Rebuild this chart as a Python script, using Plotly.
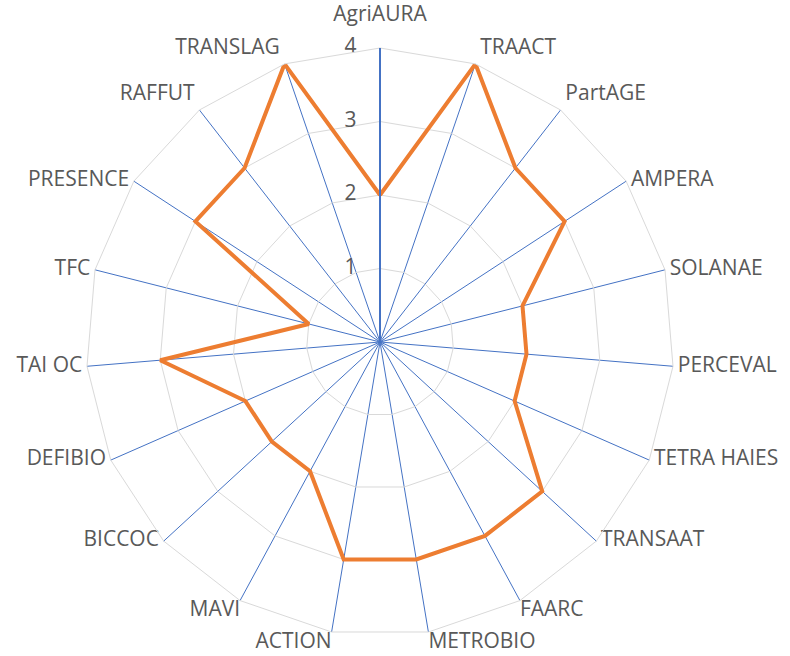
import plotly.graph_objects as go

categories = ["AgriAURA", "TRAACT", "PartAGE", "AMPERA", "SOLANAE", "PERCEVAL",
              "TETRA HAIES", "TRANSAAT", "FAARC", "METROBIO", "ACTION", "MAVI",
              "BICCOC", "DEFIBIO", "TAI OC", "TFC", "PRESENCE", "RAFFUT", "TRANSLAG"]
values = [2, 4, 3, 3, 2, 2, 2, 3, 3, 3, 3, 2, 2, 2, 3, 1, 3, 3, 4]
radial_ticks = [0, 1, 2, 3, 4]
radial_max = 4

n = len(categories)


def label_pos(i):
    a = i * 360.0 / n
    if a < 5:
        return "top center"
    if a < 45:
        return "top right"
    if a < 140:
        return "middle right"
    if a < 180:
        return "bottom right"
    if a < 220:
        return "bottom left"
    if a < 315:
        return "middle left"
    return "top left"


def label_offset(i):
    pos = label_pos(i)
    if pos == "top center":
        return 34
    if pos.startswith("bottom"):
        return 0
    return 6


fig = go.Figure()
fig.add_trace(go.Scatterpolar(
    r=values + values[:1],
    theta=categories + categories[:1],
    mode="lines",
    line=dict(color="#ED7D31", width=4),
    showlegend=False,
    hoverinfo="r+theta",
))
# category labels
fig.add_trace(go.Scatterpolar(
    r=[radial_max] * n,
    theta=categories,
    mode="markers+text",
    text=categories,
    textposition=[label_pos(i) for i in range(n)],
    marker=dict(size=[label_offset(i) for i in range(n)], opacity=0),
    textfont=dict(size=21, color="#595959"),
    cliponaxis=False,
    showlegend=False,
    hoverinfo="skip",
))
# radial tick labels
fig.add_trace(go.Scatterpolar(
    r=radial_ticks,
    theta=[categories[0]] * len(radial_ticks),
    mode="markers+text",
    text=[str(t) for t in radial_ticks],
    textposition="middle left",
    marker=dict(size=36, opacity=0),
    textfont=dict(size=21, color="#595959"),
    cliponaxis=False,
    showlegend=False,
    hoverinfo="skip",
))

W, H = 790, 656
cx, cy, R = 380, 342, 294
fig.update_layout(
    width=W, height=H,
    margin=dict(l=0, r=0, t=0, b=0),
    paper_bgcolor="white",
    font=dict(family="Open Sans, Lato, sans-serif", size=21, color="#595959"),
    polar=dict(
        domain=dict(x=[(cx - R) / W, (cx + R) / W],
                    y=[(H - cy - R) / H, (H - cy + R) / H]),
        bgcolor="white",
        gridshape="linear",
        angularaxis=dict(
            direction="clockwise", rotation=90,
            showline=True, linecolor="#D9D9D9", linewidth=1,
            showgrid=True, gridcolor="#4472C4", gridwidth=1.2,
            ticks="", showticklabels=False,
        ),
        radialaxis=dict(
            range=[0, radial_max], tickvals=radial_ticks, angle=90,
            showline=True, linecolor="#4472C4", linewidth=2,
            showgrid=True, gridcolor="#D9D9D9", gridwidth=1,
            ticks="", showticklabels=False,
        ),
    ),
)
fig.write_html("out.html", config={"displayModeBar": False},
               post_script="document.body.style.margin='0';")
